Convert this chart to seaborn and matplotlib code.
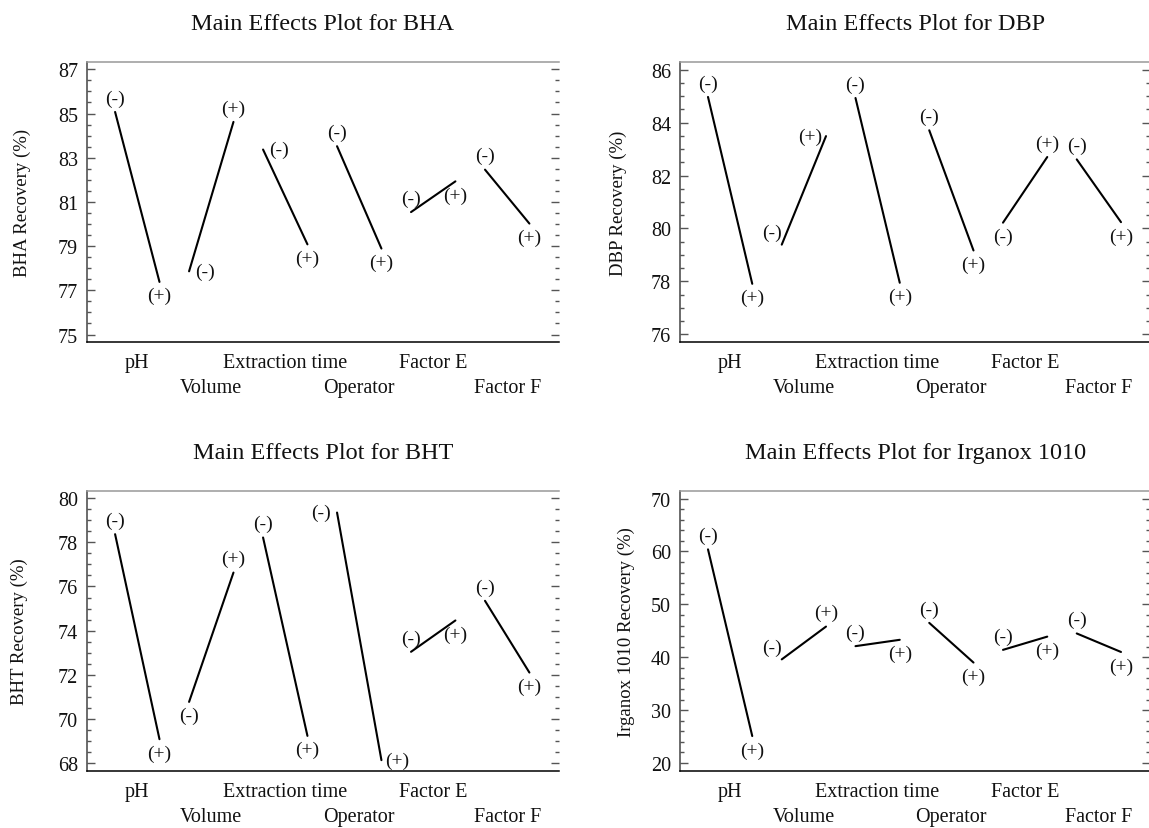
import matplotlib
matplotlib.use("Agg")
import matplotlib.pyplot as plt
from matplotlib.ticker import MultipleLocator
import seaborn as sns
import numpy as np
import pandas as pd

# factors of the screening design, low (-) and high (+) level mean recoveries
factors = ["pH", "Volume", "Extraction time", "Operator", "Factor E", "Factor F"]

bha_low = [85.07, 77.86, 83.37, 83.52, 80.54, 82.46]
bha_high = [77.38, 84.62, 79.08, 78.89, 81.93, 80.02]

dbp_low = [84.97, 79.39, 84.93, 83.71, 80.22, 82.61]
dbp_high = [77.91, 83.49, 77.95, 79.17, 82.70, 80.24]

bht_low = [78.37, 70.77, 78.22, 79.35, 73.04, 75.35]
bht_high = [69.08, 76.63, 69.23, 68.13, 74.46, 72.10]

irg_low = [60.4, 39.6, 42.1, 46.5, 41.4, 44.5]
irg_high = [25.1, 45.8, 43.3, 39.0, 43.9, 41.0]

sns.set_theme(style="white")
plt.rcParams["font.family"] = ["Liberation Serif", "DejaVu Serif"]

fig = plt.figure(figsize=(11.49, 8.29), dpi=100)

# where the (-)/(+) marks sit relative to the line ends:
# a=above b=below l=left r=right y=above-left
panels = [
    dict(name="BHA", low=bha_low, high=bha_high, rect=[0.0757, 0.5862, 0.4108, 0.3378],
         yticks=np.arange(75, 88, 2), minor=0.5, ylim=(74.66, 87.33), lab_x=-0.119,
         sides=["ab", "ra", "rb", "ab", "ab", "ab"]),
    dict(name="DBP", low=dbp_low, high=dbp_high, rect=[0.5918, 0.5862, 0.4095, 0.3378],
         yticks=np.arange(76, 87, 2), minor=0.5, ylim=(75.71, 86.29), lab_x=-0.113,
         sides=["ab", "yl", "ab", "ab", "ba", "ab"]),
    dict(name="BHT", low=bht_low, high=bht_high, rect=[0.0757, 0.0688, 0.4108, 0.3378],
         yticks=np.arange(68, 81, 2), minor=0.5, ylim=(67.64, 80.33), lab_x=-0.126,
         sides=["ab", "ba", "ab", "lr", "ab", "ab"]),
    dict(name="Irganox 1010", low=irg_low, high=irg_high, rect=[0.5918, 0.0688, 0.4095, 0.3378],
         yticks=np.arange(20, 71, 10), minor=2, ylim=(18.5, 71.45), lab_x=-0.096,
         sides=["ab", "ya", "ab", "ab", "ab", "ab"]),
]

offsets = {"a": (0, 10), "b": (0, -10), "l": (-11.5, 0), "r": (11.5, 0), "y": (-7, 9)}
half = 0.3

for p in panels:
    ax = fig.add_axes(p["rect"])

    rows = []
    for i, f in enumerate(factors):
        rows.append({"factor": f, "level": "-", "x": i - half, "recovery": p["low"][i]})
        rows.append({"factor": f, "level": "+", "x": i + half, "recovery": p["high"][i]})
    df = pd.DataFrame(rows)

    sns.lineplot(data=df, x="x", y="recovery", units="factor", estimator=None,
                 sort=False, color="black", linewidth=1.5, ax=ax, legend=False)

    for i in range(len(factors)):
        s = p["sides"][i]
        ax.annotate("(-)", xy=(i - half, p["low"][i]), xytext=offsets[s[0]],
                    textcoords="offset points", ha="center", va="center",
                    fontsize=14, color="#111111")
        ax.annotate("(+)", xy=(i + half, p["high"][i]), xytext=offsets[s[1]],
                    textcoords="offset points", ha="center", va="center",
                    fontsize=14, color="#111111")

    ax.set_xlim(-0.68, 5.70)
    ax.set_ylim(*p["ylim"])
    ax.set_yticks(p["yticks"])
    ax.yaxis.set_minor_locator(MultipleLocator(p["minor"]))
    ax.tick_params(axis="y", which="both", direction="in", left=True, right=True,
                   color="#555555", width=1, labelsize=14.5, labelcolor="#111111", pad=6.5)
    ax.tick_params(axis="y", which="major", length=5.5)
    ax.tick_params(axis="y", which="minor", length=3)

    ax.set_xticks(range(len(factors)))
    ax.set_xticklabels(factors, fontsize=14.5, color="#111111")
    ax.tick_params(axis="x", which="both", length=0, bottom=False)
    # staggered factor names, as in the original
    for k, t in enumerate(ax.xaxis.get_major_ticks()):
        t.set_pad(8 if k % 2 == 0 else 26)

    ax.set_xlabel("")
    ax.set_ylabel(f"{p['name']} Recovery (%)", fontsize=13.5, color="#111111")
    ax.yaxis.set_label_coords(p["lab_x"], 0.5)
    ax.set_title(f"Main Effects Plot for {p['name']}", fontsize=17.5, pad=24, color="#111111")

    ax.spines["top"].set_color("#999999")
    ax.spines["right"].set_visible(False)
    ax.spines["left"].set_color("#444444")
    ax.spines["bottom"].set_color("black")
    for sp in ["top", "left", "bottom"]:
        ax.spines[sp].set_linewidth(1.1)

fig.savefig("out.png", dpi=100)
